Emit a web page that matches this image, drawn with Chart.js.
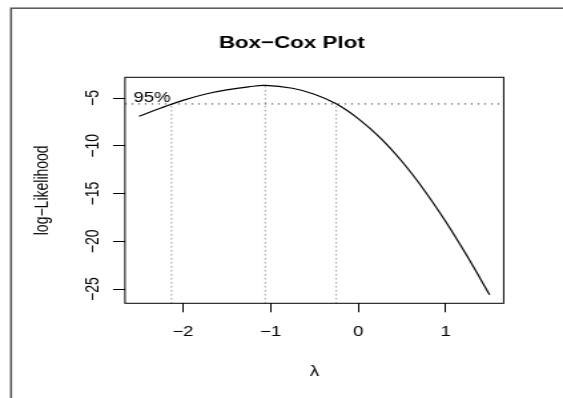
<!DOCTYPE html>
<html>
<head>
<meta charset="utf-8">
<script src="https://cdn.jsdelivr.net/npm/chart.js@4/dist/chart.umd.min.js"></script>
<style>
  html, body { margin: 0; padding: 0; background: #fff; overflow: hidden; }
</style>
</head>
<body>
<!-- the reference is stretched sideways, so the canvas is drawn narrow and widened by css -->
<canvas id="c" width="423" height="398" style="width:563px;height:398px;display:block"></canvas>
<script>
// lambda values and log-likelihood
const lambdaVals = [-2.5, -2.25, -2.0, -1.75, -1.5, -1.25, -1.06, -0.75, -0.5, -0.25, 0, 0.25, 0.5, 0.75, 1.0, 1.25, 1.5]
const logLik = [-6.9, -6.05, -5.25, -4.6, -4.15, -3.83, -3.68, -3.98, -4.6, -5.6, -7.15, -9.15, -11.65, -14.6, -17.95, -21.65, -25.6]

// 95% line and the three lambda marks
const limit95 = -5.62
const maxLik = -3.68
const ciLow = -2.13
const lambdaMax = -1.06
const ciHigh = -0.25

const xTicks = [-2, -1, 0, 1]
const yTicks = [-25, -20, -15, -10, -5]

const titleText = 'Box\u2212Cox Plot'
const xTitle = '\u03bb'
const yTitle = 'log\u2212Likelihood'
const ciText = '95%'

function fmt(v) {
    return v < 0 ? '\u2212' + Math.abs(v) : String(v)
}

let points = lambdaVals.map((l, i) => ({ x: l, y: logLik[i] }))

const rStyle = {
    id: 'rStyle',
    beforeDraw(chart) {
        let ctx = chart.ctx
        ctx.save()
        ctx.fillStyle = '#fff'
        ctx.fillRect(0, 0, chart.width, chart.height)
        ctx.restore()
    },
    beforeDatasetsDraw(chart) {
        let ctx = chart.ctx
        let a = chart.chartArea
        let x = chart.scales.x
        let y = chart.scales.y
        ctx.save()
        ctx.beginPath()
        ctx.rect(a.left, a.top, a.right - a.left, a.bottom - a.top)
        ctx.clip()
        ctx.strokeStyle = '#333'
        ctx.lineWidth = 1
        // horizontal 95% line
        ctx.setLineDash([1.2, 3.8])
        ctx.beginPath()
        ctx.moveTo(a.left, y.getPixelForValue(limit95))
        ctx.lineTo(a.right, y.getPixelForValue(limit95))
        ctx.stroke()
        // vertical marks
        ctx.strokeStyle = '#666'
        ctx.setLineDash([1, 3])
        let marks = [[ciLow, limit95], [lambdaMax, maxLik], [ciHigh, limit95]]
        marks.forEach(m => {
            let px = x.getPixelForValue(m[0])
            ctx.beginPath()
            ctx.moveTo(px, a.bottom)
            ctx.lineTo(px, y.getPixelForValue(m[1]))
            ctx.stroke()
        })
        ctx.restore()
    },
    afterDraw(chart) {
        let ctx = chart.ctx
        let a = chart.chartArea
        let x = chart.scales.x
        let y = chart.scales.y
        ctx.save()
        // outer frame
        ctx.strokeStyle = '#555'
        ctx.lineWidth = 1.5
        ctx.strokeRect(8.3, 8.2, 500, 500)
        // plot box
        ctx.strokeStyle = '#000'
        ctx.lineWidth = 1
        ctx.strokeRect(a.left, a.top, a.right - a.left, a.bottom - a.top)

        ctx.fillStyle = '#000'
        // title
        ctx.font = 'bold 16.8px "Liberation Sans", Arial, sans-serif'
        ctx.textAlign = 'center'
        ctx.textBaseline = 'alphabetic'
        ctx.fillText(titleText, 219.2, 47.7)

        ctx.font = '14px "Liberation Sans", Arial, sans-serif'
        // x tick labels
        x.ticks.forEach(t => {
            ctx.fillText(fmt(t.value), x.getPixelForValue(t.value), 336)
        })
        // x title
        ctx.fillText(xTitle, (a.left + a.right) / 2, 376)
        // y tick labels, turned
        y.ticks.forEach(t => {
            ctx.save()
            ctx.translate(73.6, y.getPixelForValue(t.value))
            ctx.rotate(-Math.PI / 2)
            ctx.fillText(fmt(t.value), 0, 0)
            ctx.restore()
        })
        // y title
        ctx.save()
        ctx.translate(35.5, (a.top + a.bottom) / 2)
        ctx.rotate(-Math.PI / 2)
        ctx.fillText(yTitle, 0, 0)
        ctx.restore()
        // 95% label
        ctx.textAlign = 'left'
        ctx.fillText(ciText, 100.2, 101.5)
        ctx.restore()
    }
}

let chart = new Chart(document.getElementById('c'), {
    type: 'line',
    data: {
        datasets: [{
            data: points,
            borderColor: '#000',
            borderWidth: 1.2,
            pointRadius: 0,
            fill: false,
            tension: 0.4
        }]
    },
    options: {
        responsive: false,
        devicePixelRatio: 1,
        animation: false,
        layout: { padding: { left: 0, top: 77.3, right: 44.6, bottom: 0 } },
        plugins: { legend: { display: false }, title: { display: false }, tooltip: { enabled: false } },
        scales: {
            x: {
                type: 'linear',
                min: -2.66,
                max: 1.66,
                afterBuildTicks: s => { s.ticks = xTicks.map(v => ({ value: v })) },
                afterFit: s => { s.height = 398 - 303.3 },
                ticks: { display: false, includeBounds: false },
                grid: { display: true, drawOnChartArea: false, drawTicks: true, tickLength: 9, color: '#000', lineWidth: 1 },
                border: { display: false }
            },
            y: {
                type: 'linear',
                min: -26.49,
                max: -2.83,
                afterBuildTicks: s => { s.ticks = yTicks.map(v => ({ value: v })) },
                afterFit: s => { s.width = 93.9 },
                ticks: { display: false, includeBounds: false },
                grid: { display: true, drawOnChartArea: false, drawTicks: true, tickLength: 9, color: '#000', lineWidth: 1 },
                border: { display: false }
            }
        }
    },
    plugins: [rStyle]
})
</script>
</body>
</html>
